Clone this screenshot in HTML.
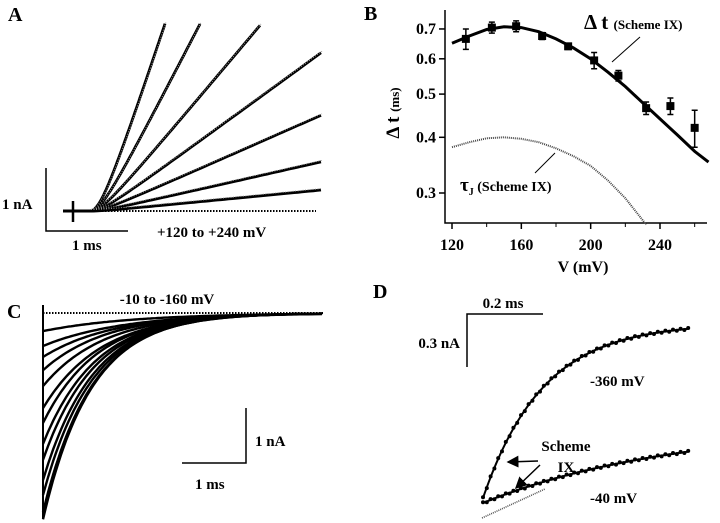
<!DOCTYPE html>
<html><head><meta charset="utf-8"><style>
body{margin:0;background:#fff}
svg{display:block}
text{font-family:"Liberation Serif",serif;font-weight:bold;fill:#000}
</style></head><body>
<svg id="fig" width="720" height="523" viewBox="0 0 720 523">
<!-- Panel A -->
<g id="pa">
<text x="8" y="21" font-size="20">A</text>
<path d="M46,168 V231 H128" fill="none" stroke="#000" stroke-width="1.5"/>
<text x="2" y="209" font-size="15">1 nA</text>
<text x="72" y="250" font-size="15">1 ms</text>
<text x="157" y="237" font-size="15">+120 to +240 mV</text>
<line x1="63" y1="211" x2="316" y2="211" stroke="#000" stroke-width="2" stroke-dasharray="1.5,1.5"/>
<line x1="63" y1="211" x2="90" y2="211" stroke="#000" stroke-width="3"/>
<line x1="73" y1="201" x2="73" y2="222" stroke="#000" stroke-width="2.5"/>
</g>
<!-- Panel B -->
<g id="pb">
<text x="364" y="20" font-size="20">B</text>
<path d="M445,10 V223 H707" fill="none" stroke="#000" stroke-width="1.5"/>
<text transform="translate(399,113) rotate(-90)" text-anchor="middle" font-size="19">Δ t <tspan font-size="13">(ms)</tspan></text>
<text x="583" y="272" text-anchor="middle" font-size="16">V (mV)</text>
<text x="584" y="29" font-size="21">Δ t <tspan font-size="13">(Scheme IX)</tspan></text>
<line x1="640" y1="37" x2="612" y2="62" stroke="#000" stroke-width="1"/>
<text x="460" y="191" font-size="19">τ<tspan font-size="10" dy="4">J</tspan><tspan font-size="14" dy="-4"> (Scheme IX)</tspan></text>
<line x1="535" y1="173" x2="555" y2="153" stroke="#000" stroke-width="1"/>
</g>
<!-- Panel C -->
<g id="pc">
<text x="7" y="318" font-size="20">C</text>
<line x1="43" y1="305" x2="43" y2="518" stroke="#000" stroke-width="2"/>
<line x1="43" y1="313" x2="323" y2="313" stroke="#000" stroke-width="2" stroke-dasharray="1.5,1.5"/>
<text x="167" y="304" text-anchor="middle" font-size="15">-10 to -160 mV</text>
<path d="M246,408 V463 H182" fill="none" stroke="#000" stroke-width="1.5"/>
<text x="255" y="446" font-size="15">1 nA</text>
<text x="195" y="489" font-size="15">1 ms</text>
</g>
<!-- Panel D -->
<g id="pd">
<text x="373" y="298" font-size="20">D</text>
<path d="M467,367 V314 H543" fill="none" stroke="#000" stroke-width="1.5"/>
<text x="503" y="308" text-anchor="middle" font-size="15">0.2 ms</text>
<text x="460" y="348" text-anchor="end" font-size="15">0.3 nA</text>
<text x="590" y="386" font-size="15">-360 mV</text>
<text x="590" y="503" font-size="15">-40 mV</text>
<text x="566" y="451" text-anchor="middle" font-size="15">Scheme</text>
<text x="566" y="472" text-anchor="middle" font-size="15">IX</text>
<defs><marker id="ah" markerWidth="8" markerHeight="8" refX="7" refY="4" orient="auto"><path d="M0,0 L8,4 L0,8 z" fill="#000"/></marker></defs>
<line x1="538" y1="461" x2="508" y2="462" stroke="#000" stroke-width="1.5" marker-end="url(#ah)"/>
<line x1="540" y1="465" x2="516" y2="488" stroke="#000" stroke-width="1.5" marker-end="url(#ah)"/>
</g>
</svg>
<script>
// Panel A: activation rates (nA/ms) per voltage trace
const aVoltages=[240,220,200,180,160,140,120];
const aRates=[3.95,2.53,1.55,0.95,0.575,0.295,0.126];
const aDurations=[0.915,1.341,2.073,2.817,2.817,2.817,2.817];
// Panel B
const bVolt=[128,143,157,172,187,202,216,232,246,260];
const bDelta=[0.665,0.705,0.71,0.675,0.64,0.595,0.55,0.465,0.47,0.42];
const bErr=[0.035,0.02,0.02,0.012,0.01,0.025,0.015,0.015,0.02,0.04];
const bFitV=[120,130,140,150,160,170,180,190,200,210,220,230,240,250,260,268];
const bFitT=[0.65,0.675,0.698,0.708,0.705,0.69,0.665,0.635,0.6,0.56,0.52,0.478,0.44,0.405,0.372,0.352];
const bTauV=[120,130,140,150,160,170,180,190,200,210,220,232];
const bTauT=[0.38,0.39,0.398,0.4,0.397,0.39,0.378,0.363,0.345,0.32,0.292,0.255];
const bXTicks=[120,160,200,240];
const bXMinor=[140,180,220,260];
const bYTicks=[0.3,0.4,0.5,0.6,0.7];
// Panel C: tail amplitudes (nA) and time constants (ms)
const cAmps=[0.33,0.6,0.8,1.04,1.33,1.73,2.0,2.38,2.67,3.04,3.31,3.62,3.75];
const cTaus=[1.4,1.25,1.1,1.0,0.95,0.9,0.85,0.82,0.8,0.78,0.77,0.76,0.75];
// Panel D: amplitude (nA), tau (ms)
const dAmps=[0.99,0.44];
const dTaus=[0.158,0.5];
const dLabels=['-360','-40'];

const NS='http://www.w3.org/2000/svg';
function mk(parent,tag,attrs){const e=document.createElementNS(NS,tag);for(const k in attrs)e.setAttribute(k,attrs[k]);parent.appendChild(e);return e;}
function pathD(pts){return pts.map((p,i)=>(i?'L':'M')+p[0].toFixed(1)+','+p[1].toFixed(1)).join('');}

// Panel A
const pa=document.getElementById('pa');
const axA=t=>90+t*82, ayA=i=>211-i*63, dA=0.18;
aRates.forEach((r,i)=>{
  const pts=[];
  for(let t=0;t<=aDurations[i]+1e-9;t+=aDurations[i]/60){pts.push([axA(t),ayA(r*(Math.sqrt(t*t+dA*dA)-dA))]);}
  const p=mk(pa,'path',{d:pathD(pts),fill:'none',stroke:'#000','stroke-width':2.8});
  
  
  const f=mk(pa,'path',{d:pathD(pts),fill:'none',stroke:'#999','stroke-width':1,'stroke-dasharray':'1,1.5',transform:'translate(1,-1.5)'});
  
  
});

// Panel B
const pb=document.getElementById('pb');
const bx=v=>452+(v-120)*(660-452)/120;
const by=t=>193-Math.log(t/0.3)*193.6;
bXTicks.forEach(v=>{
  const l=mk(pb,'line',{x1:bx(v),y1:223,x2:bx(v),y2:229,stroke:'#000','stroke-width':1.5});
  
  
  const t=mk(pb,'text',{x:bx(v),y:250,'text-anchor':'middle','font-size':16});t.textContent=v;
  
  
});
bXMinor.forEach(v=>{
  const l=mk(pb,'line',{x1:bx(v),y1:223,x2:bx(v),y2:227,stroke:'#000','stroke-width':1});
  
  
});
bYTicks.forEach(v=>{
  const l=mk(pb,'line',{x1:439,y1:by(v),x2:445,y2:by(v),stroke:'#000','stroke-width':1.5});
  
  
  const t=mk(pb,'text',{x:436,y:by(v)+5,'text-anchor':'end','font-size':16});t.textContent=v.toFixed(1);
  
  
});
const fit=mk(pb,'path',{d:pathD(bFitV.map((v,i)=>[bx(v),by(bFitT[i])])),fill:'none',stroke:'#000','stroke-width':3});


const tau=mk(pb,'path',{d:pathD(bTauV.map((v,i)=>[bx(v),by(bTauT[i])])),fill:'none',stroke:'#444','stroke-width':2,'stroke-dasharray':'1,1'});


bVolt.forEach((v,i)=>{
  const x=bx(v),y=by(bDelta[i]),y1=by(bDelta[i]+bErr[i]),y2=by(bDelta[i]-bErr[i]);
  const e=mk(pb,'path',{d:`M${x},${y1}V${y2}M${x-3},${y1}H${x+3}M${x-3},${y2}H${x+3}`,stroke:'#000','stroke-width':1.5,fill:'none'});
  
  
  const r=mk(pb,'rect',{x:x-4,y:y-4,width:8,height:8,fill:'#000'});
  
  
});

// Panel C
const pc=document.getElementById('pc');
const cx=t=>43+t*64, cy=i=>313+i*55;
cAmps.forEach((a,i)=>{
  const pts=[];
  for(let t=0;t<=4.375;t+=0.04){pts.push([cx(t),cy(a*Math.exp(-t/cTaus[i]))]);}
  const p=mk(pc,'path',{d:pathD(pts),fill:'none',stroke:'#000','stroke-width':2.4});
  
  
});

// Panel D
const pd=document.getElementById('pd');
const dx=t=>483+t*380, dy=i=>i*176.7;
const dStart=[498,503];
dAmps.forEach((a,k)=>{
  const pts=[];
  for(let t=0;t<=0.545;t+=0.005){pts.push([dx(t),dStart[k]-dy(a*(1-Math.exp(-t/dTaus[k])))]);}
  const p=mk(pd,'path',{d:pathD(pts),fill:'none',stroke:'#000','stroke-width':2});
  
  
  pts.forEach((q,j)=>{if(j%2)return;
    const c=mk(pd,'circle',{cx:q[0],cy:q[1]+(j%4?0.8:-0.8),r:2,fill:'#000'});
    
    
  });
});
const dl=mk(pd,'line',{x1:482,y1:518,x2:545,y2:489,stroke:'#555','stroke-width':1.6,'stroke-dasharray':'1,1'});


</script>
</body></html>
